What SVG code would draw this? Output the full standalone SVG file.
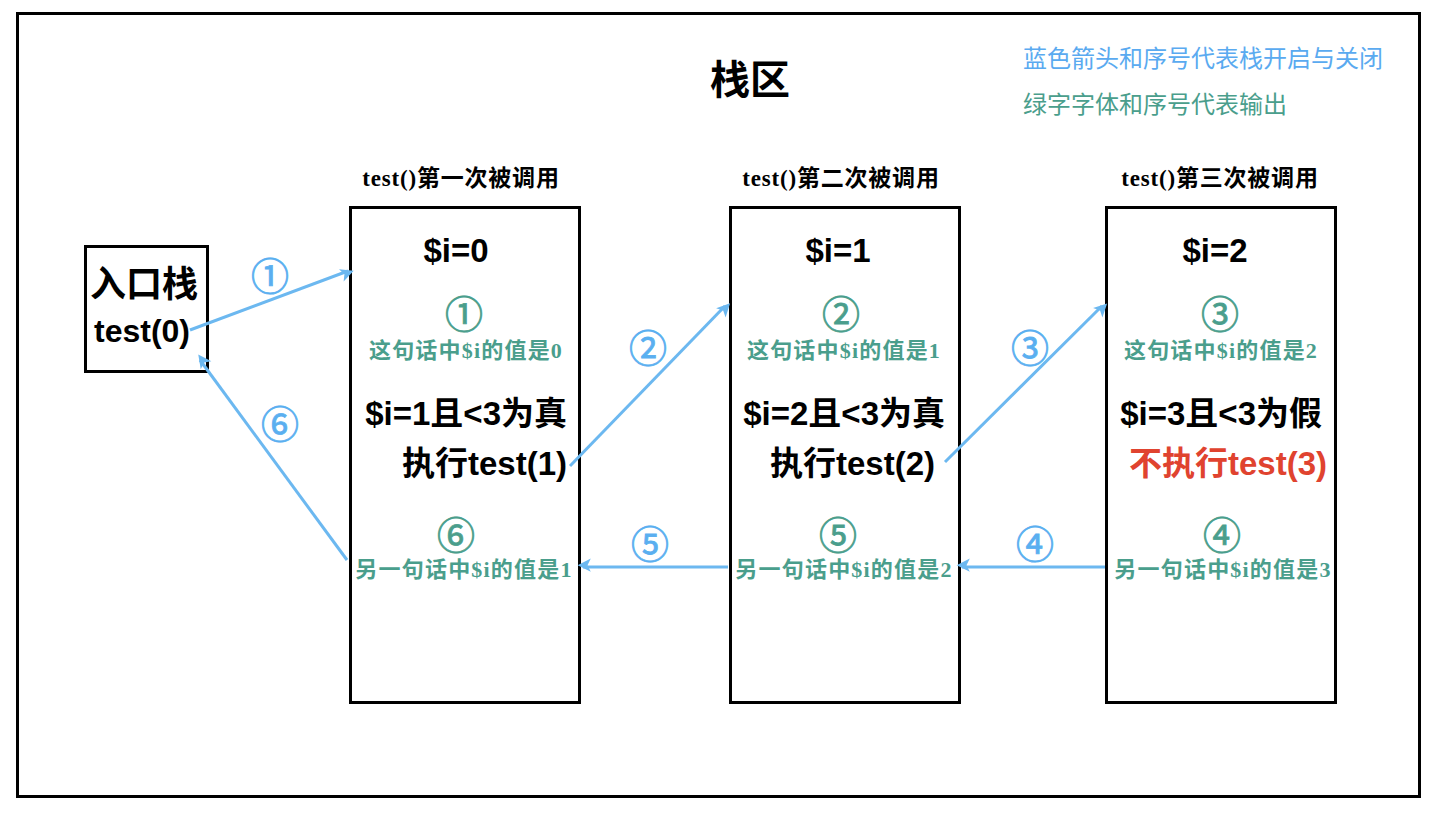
<svg xmlns="http://www.w3.org/2000/svg" width="1440" height="813" viewBox="0 0 1440 813">
<style>
.box{fill:none;stroke:#000;stroke-width:3}
.b{font-family:"Liberation Sans","Noto Sans CJK SC",sans-serif;font-weight:bold;fill:#000}
.cap{font-family:"Liberation Serif","Noto Sans CJK SC",serif;font-weight:bold;font-size:23px;letter-spacing:0.8px;fill:#000}
.g{font-family:"Liberation Serif","Noto Sans CJK SC",serif;font-weight:bold;font-size:22px;letter-spacing:1.2px;fill:#4a9e8c}
.gc{font-family:"Noto Sans CJK SC",sans-serif;font-size:38px;fill:#4a9e8c;stroke:#4a9e8c;stroke-width:0.8}
.bc{font-family:"Noto Sans CJK SC",sans-serif;font-size:38px;fill:#5aaff0;stroke:#5aaff0;stroke-width:0.8}
.leg{font-family:"Liberation Serif","Noto Sans CJK SC",serif;font-size:24px}
.arr{stroke:#6cb8f0;stroke-width:3;fill:none;marker-end:url(#ah)}
</style>
<defs>
<marker id="ah" viewBox="0 0 10 10" refX="9" refY="5" markerWidth="6" markerHeight="6" markerUnits="userSpaceOnUse" orient="auto" style="overflow:visible">
<path d="M0,0 L10,5 L0,10 L2.5,5 Z" fill="#6cb8f0" transform="translate(-4,-3) scale(2.2)"/>
</marker>
</defs>
<rect x="0" y="0" width="1440" height="813" fill="#fff"/>
<rect x="17.5" y="13.5" width="1402" height="783" class="box"/>
<text x="750" y="94" class="b" font-size="40" text-anchor="middle">栈区</text>
<text x="1023" y="67" class="leg" fill="#5aaaf0">蓝色箭头和序号代表栈开启与关闭</text>
<text x="1023" y="113" class="leg" fill="#4a9e8c">绿字字体和序号代表输出</text>

<g id="entry">
<rect x="85.5" y="246.5" width="122" height="125" class="box"/>
<text x="144" y="297" class="b" font-size="36" text-anchor="middle">入口栈</text>
<text x="142" y="342" class="b" font-size="32" text-anchor="middle">test(0)</text>
</g>

<g id="call1">
<text x="461" y="186" class="cap" text-anchor="middle">test()第一次被调用</text>
<rect x="350.5" y="207.5" width="229" height="495" class="box"/>
<text x="456" y="262" class="b" font-size="33" text-anchor="middle">$i=0</text>
<text x="464" y="328" class="gc" text-anchor="middle">①</text>
<text x="466" y="358" class="g" text-anchor="middle">这句话中$i的值是0</text>
<text x="567" y="425" class="b" font-size="33" text-anchor="end">$i=1且&lt;3为真</text>
<text x="567" y="475" class="b" font-size="33" text-anchor="end">执行test(1)</text>
<text x="456" y="549" class="gc" text-anchor="middle">⑥</text>
<text x="464" y="577" class="g" text-anchor="middle">另一句话中$i的值是1</text>
</g>

<g id="call2">
<text x="841" y="186" class="cap" text-anchor="middle">test()第二次被调用</text>
<rect x="730.5" y="207.5" width="229" height="495" class="box"/>
<text x="838" y="262" class="b" font-size="33" text-anchor="middle">$i=1</text>
<text x="841" y="328" class="gc" text-anchor="middle">②</text>
<text x="844" y="358" class="g" text-anchor="middle">这句话中$i的值是1</text>
<text x="945" y="425" class="b" font-size="33" text-anchor="end">$i=2且&lt;3为真</text>
<text x="935" y="475" class="b" font-size="33" text-anchor="end">执行test(2)</text>
<text x="838" y="549" class="gc" text-anchor="middle">⑤</text>
<text x="844" y="577" class="g" text-anchor="middle">另一句话中$i的值是2</text>
</g>

<g id="call3">
<text x="1220" y="186" class="cap" text-anchor="middle">test()第三次被调用</text>
<rect x="1106.5" y="207.5" width="229" height="495" class="box"/>
<text x="1215" y="262" class="b" font-size="33" text-anchor="middle">$i=2</text>
<text x="1220" y="328" class="gc" text-anchor="middle">③</text>
<text x="1221" y="358" class="g" text-anchor="middle">这句话中$i的值是2</text>
<text x="1322" y="425" class="b" font-size="33" text-anchor="end">$i=3且&lt;3为假</text>
<text x="1327" y="475" class="b" font-size="33" text-anchor="end" style="fill:#e0432f">不执行test(3)</text>
<text x="1222" y="549" class="gc" text-anchor="middle">④</text>
<text x="1223" y="577" class="g" text-anchor="middle">另一句话中$i的值是3</text>
</g>

<g id="connectors">
<line x1="190" y1="330" x2="348" y2="271" class="arr"/>
<text x="270" y="290" class="bc" text-anchor="middle">①</text>
<line x1="570" y1="466" x2="725" y2="306" class="arr"/>
<text x="648" y="362" class="bc" text-anchor="middle">②</text>
<line x1="945" y1="462" x2="1102" y2="306" class="arr"/>
<text x="1030" y="362" class="bc" text-anchor="middle">③</text>
<line x1="1105" y1="567" x2="962" y2="567" class="arr"/>
<text x="1035" y="558" class="bc" text-anchor="middle">④</text>
<line x1="728" y1="567" x2="583" y2="567" class="arr"/>
<text x="650" y="558" class="bc" text-anchor="middle">⑤</text>
<line x1="347" y1="560" x2="200" y2="360" class="arr"/>
<text x="280" y="438" class="bc" text-anchor="middle">⑥</text>
</g>
</svg>
